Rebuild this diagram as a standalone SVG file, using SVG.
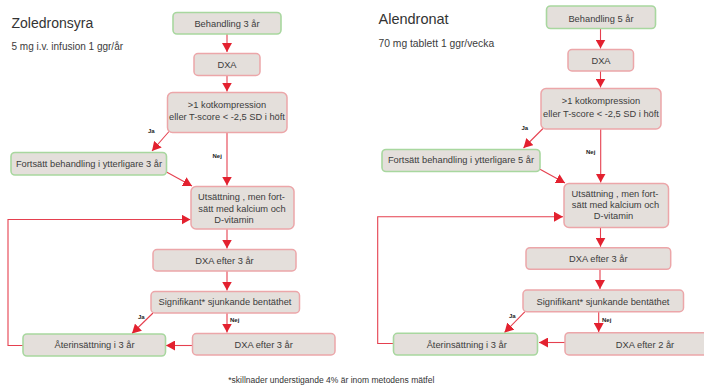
<svg xmlns="http://www.w3.org/2000/svg" width="704" height="387" viewBox="0 0 704 387">
  <defs>
    <marker id="arrow" viewBox="0 0 10 10" markerWidth="10" markerHeight="10" refX="9" refY="5" orient="auto" markerUnits="userSpaceOnUse">
      <path d="M0,0 L9,5 L0,10 z" fill="#e3212f"/>
    </marker>
    <style>
      .box { fill: #e4dfdb; stroke: #eca6a9; stroke-width: 1.5; }
      .start { fill: #e4dfdb; stroke: #a8d79f; stroke-width: 1.6; }
      .t { font-family: "Liberation Sans", Arial, sans-serif; font-size: 9.3px; fill: #3c3c3c; text-anchor: middle; }
      .lbl { font-family: "Liberation Sans", Arial, sans-serif; font-size: 6px; font-weight: bold; fill: #222; }
      .title { font-family: "Liberation Sans", Arial, sans-serif; font-size: 14px; fill: #333; }
      .sub { font-family: "Liberation Sans", Arial, sans-serif; font-size: 10px; fill: #3c3c3c; }
      .note { font-family: "Liberation Sans", Arial, sans-serif; font-size: 8.5px; fill: #333; }
      .c { fill: none; stroke: #e5404f; stroke-width: 1.1; }
      .c.a { marker-end: url(#arrow); }
    </style>
  </defs>
  <rect width="704" height="387" fill="#ffffff"/>

  <!-- Headings -->
  <text class="title" x="11.5" y="28.3">Zoledronsyra</text>
  <text class="sub" x="11.5" y="50">5 mg i.v. infusion 1 ggr/år</text>
  <text class="title" x="378.5" y="24.3" style="font-size:14.5px">Alendronat</text>
  <text class="sub" x="378.5" y="46.7" style="font-size:10.3px">70 mg tablett 1 ggr/vecka</text>

  <!-- Connectors -->
  <g id="connectors">
    <!-- Zoledronsyra -->
    <path class="c a" d="M227,34 V52"/>
    <path class="c a" d="M227,75.5 V91.5"/>
    <path class="c a" d="M169,131.5 L152,151"/>
    <path class="c a" d="M227,132.5 V185.5"/>
    <path class="c a" d="M166.5,172 L192,186"/>
    <path class="c a" d="M23,345.5 H8 V219.5 H190.5"/>
    <path class="c a" d="M227,229 V248.5"/>
    <path class="c a" d="M227,271 V290.5"/>
    <path class="c a" d="M153,313 L132,333.5"/>
    <path class="c a" d="M227,313 V332.5"/>
    <path class="c a" d="M192.5,345.5 H166"/>
    <!-- Alendronat -->
    <path class="c a" d="M600.5,28.5 V48.5"/>
    <path class="c a" d="M600.5,71 V87.5"/>
    <path class="c a" d="M543,128.5 L523.5,148"/>
    <path class="c a" d="M600.7,129 V182.5"/>
    <path class="c a" d="M540,169.3 L565,183"/>
    <path class="c a" d="M393.5,343.5 H377.7 V216.7 H563"/>
    <path class="c a" d="M600.5,227.7 V246.7"/>
    <path class="c a" d="M600,269.3 V289"/>
    <path class="c a" d="M525,311.7 L504.5,332.5"/>
    <path class="c a" d="M598.7,311.7 V332"/>
    <path class="c a" d="M565,342.5 H539"/>

    <text class="lbl" x="148" y="133">Ja</text>
    <text class="lbl" x="212.5" y="158">Nej</text>
    <text class="lbl" x="138" y="318.5">Ja</text>
    <text class="lbl" x="230" y="322.3">Nej</text>
    <text class="lbl" x="521.5" y="129.5">Ja</text>
    <text class="lbl" x="586" y="154.3">Nej</text>
    <text class="lbl" x="509" y="318.3">Ja</text>
    <text class="lbl" x="602" y="321.7">Nej</text>
  </g>

  <!-- Zoledronsyra nodes -->
  <g id="z-start">
    <rect class="start" x="173" y="12.5" width="108" height="21.5" rx="4"/>
    <text class="t" x="227" y="26.5">Behandling 3 år</text>
  </g>
  <g id="z-dxa">
    <rect class="box" x="194" y="53.5" width="66" height="22" rx="4"/>
    <text class="t" x="227" y="68">DXA</text>
  </g>
  <g id="z-decision">
    <rect class="box" x="167.5" y="92.5" width="119.5" height="40" rx="5"/>
    <text class="t" x="227" y="107.5">&gt;1 kotkompression</text>
    <text class="t" x="227" y="120">eller T-score &lt; -2,5 SD i höft</text>
  </g>
  <g id="z-continue">
    <rect class="start" x="11" y="152.5" width="155.5" height="22.5" rx="4"/>
    <text class="t" x="89" y="166.7">Fortsätt behandling i ytterligare 3 år</text>
  </g>
  <g id="z-stop">
    <rect class="box" x="191" y="186.5" width="103" height="42.5" rx="5"/>
    <text class="t" x="241.5" y="200">Utsättning , men fort-</text>
    <text class="t" x="242" y="211.7">sätt med kalcium och</text>
    <text class="t" x="234" y="222.7">D-vitamin</text>
  </g>
  <g id="z-dxa3">
    <rect class="box" x="153" y="249.5" width="143" height="21.5" rx="4"/>
    <text class="t" x="224.5" y="264">DXA efter 3 år</text>
  </g>
  <g id="z-signif">
    <rect class="box" x="151" y="291.5" width="148.5" height="21.5" rx="4"/>
    <text class="t" x="225" y="305">Signifikant* sjunkande bentäthet</text>
  </g>
  <g id="z-restart">
    <rect class="start" x="23" y="334" width="142.5" height="22" rx="4"/>
    <text class="t" x="94.5" y="348.3">Återinsättning i 3 år</text>
  </g>
  <g id="z-dxa3b">
    <rect class="box" x="192.5" y="333.5" width="142.5" height="21.5" rx="4"/>
    <text class="t" x="263.7" y="348">DXA efter 3 år</text>
  </g>

  <!-- Alendronat nodes -->
  <g id="a-start">
    <rect class="start" x="546.5" y="6" width="109" height="22.5" rx="4"/>
    <text class="t" x="601" y="21.5">Behandling 5 år</text>
  </g>
  <g id="a-dxa">
    <rect class="box" x="568" y="49.5" width="65.5" height="21.5" rx="4"/>
    <text class="t" x="601" y="64">DXA</text>
  </g>
  <g id="a-decision">
    <rect class="box" x="541" y="88.5" width="120" height="40.5" rx="5"/>
    <text class="t" x="601" y="104">&gt;1 kotkompression</text>
    <text class="t" x="601" y="116.7">eller T-score &lt; -2,5 SD i höft</text>
  </g>
  <g id="a-continue">
    <rect class="start" x="382" y="149.5" width="158" height="22" rx="4"/>
    <text class="t" x="461" y="163.3">Fortsätt behandling i ytterligare 5 år</text>
  </g>
  <g id="a-stop">
    <rect class="box" x="564" y="183.5" width="104.5" height="44" rx="5"/>
    <text class="t" x="615" y="196.7">Utsättning , men fort-</text>
    <text class="t" x="615.5" y="207.7">sätt med kalcium och</text>
    <text class="t" x="613.5" y="219.3">D-vitamin</text>
  </g>
  <g id="a-dxa3">
    <rect class="box" x="526" y="247.7" width="144.7" height="21.6" rx="4"/>
    <text class="t" x="598.3" y="262.3">DXA efter 3 år</text>
  </g>
  <g id="a-signif">
    <rect class="box" x="523" y="290" width="160.5" height="21.7" rx="4"/>
    <text class="t" x="603" y="305">Signifikant* sjunkande bentäthet</text>
  </g>
  <g id="a-restart">
    <rect class="start" x="393.5" y="333.3" width="144" height="21.7" rx="4"/>
    <text class="t" x="466.7" y="347.7">Återinsättning i 3 år</text>
  </g>
  <g id="a-dxa2">
    <rect class="box" x="565" y="332.7" width="145" height="22.3" rx="4"/>
    <text class="t" x="645" y="347.7">DXA efter 2 år</text>
  </g>

  <!-- Footnote -->
  <text class="note" x="228.3" y="383">*skillnader understigande 4% är inom metodens mätfel</text>
</svg>
